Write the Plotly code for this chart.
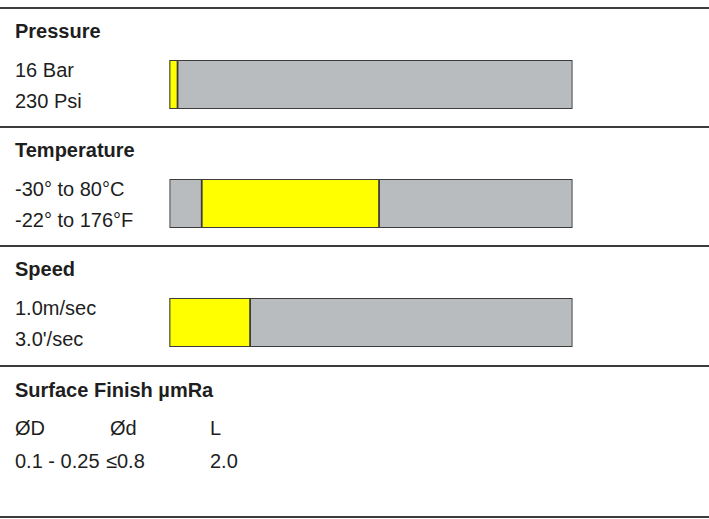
import plotly.graph_objects as go

# data
sections = ["Pressure", "Temperature", "Speed"]
label_top = ["16 Bar", "-30° to 80°C", "1.0m/sec"]
label_bottom = ["230 Psi", "-22° to 176°F", "3.0'/sec"]
scale_min = [0, -50, 0]
scale_max = [800, 200, 5]
range_low = [0, -30, 0]
range_high = [16, 80, 1.0]

finish_title = "Surface Finish µmRa"
finish_heads = ["ØD", "Ød", "L"]
finish_values = ["0.1 - 0.25", "≤0.8", "2.0"]

W, H = 709, 519
FONT = "Liberation Sans, Arial, sans-serif"
GREY = "#b9bcbe"
YELLOW = "#ffff00"
EDGE = "#3c3c3c"


def py(v):
    """pixel y -> paper y"""
    return 1 - v / H


fig = go.Figure()

# section geometry in pixels
sec_top = [8, 127, 246, 366]
bar_left, bar_right = 169.5, 572.5
text_x = 13

annotations = []
shapes = []
for i, name in enumerate(sections):
    top = sec_top[i]
    n = "" if i == 0 else str(i + 1)
    # full scale (grey) then the working range (yellow)
    fig.add_trace(go.Bar(
        y=[0], x=[scale_max[i] - scale_min[i]], base=[scale_min[i]],
        orientation="h", width=1, marker=dict(color=GREY, line=dict(color=EDGE, width=1.8)),
        xaxis="x" + n, yaxis="y" + n, showlegend=False, hoverinfo="skip"))
    fig.add_trace(go.Bar(
        y=[0], x=[range_high[i] - range_low[i]], base=[range_low[i]],
        orientation="h", width=1, marker=dict(color=YELLOW, line=dict(color=EDGE, width=1.8)),
        xaxis="x" + n, yaxis="y" + n, showlegend=False, hoverinfo="skip"))
    b0, b1 = top + 52, top + 101
    fig.layout["xaxis" + n] = dict(domain=[bar_left / W, bar_right / W],
                                   range=[scale_min[i], scale_max[i]],
                                   anchor="y" + n, visible=False, fixedrange=True)
    fig.layout["yaxis" + n] = dict(domain=[py(b1), py(b0)], range=[-0.5, 0.5],
                                   anchor="x" + n, visible=False, fixedrange=True)
    annotations.append(dict(text="<b>%s</b>" % name, x=text_x / W, y=py(top + 23)))
    annotations.append(dict(text=label_top[i], x=text_x / W, y=py(top + 62)))
    annotations.append(dict(text=label_bottom[i], x=text_x / W, y=py(top + 93)))

# surface finish block
top = sec_top[3]
annotations.append(dict(text="<b>%s</b>" % finish_title, x=text_x / W, y=py(top + 24)))
head_x = [text_x, 108, 208]
val_x = [text_x, 104, 208]
for j in range(len(finish_heads)):
    annotations.append(dict(text=finish_heads[j], x=head_x[j] / W, y=py(top + 62)))
    annotations.append(dict(text=finish_values[j], x=val_x[j] / W, y=py(top + 95)))

for a in annotations:
    a.update(xref="paper", yref="paper", xanchor="left", yanchor="middle",
             showarrow=False)
    a["font"] = dict(family=FONT, size=20, color="#1e1e1e")

for y in sec_top + [517]:
    shapes.append(dict(type="line", xref="paper", yref="paper", x0=0, x1=1,
                       y0=py(y), y1=py(y), line=dict(color=EDGE, width=2)))

fig.update_layout(
    width=W, height=H,
    margin=dict(l=0, r=0, t=0, b=0),
    paper_bgcolor="white", plot_bgcolor="white",
    barmode="overlay",
    annotations=annotations, shapes=shapes,
    font=dict(family=FONT),
)

# drop the browser's default 8px body margin so the figure sits at 0,0
fig.write_html("out.html", config={"displayModeBar": False},
               post_script="document.body.style.margin='0';")
